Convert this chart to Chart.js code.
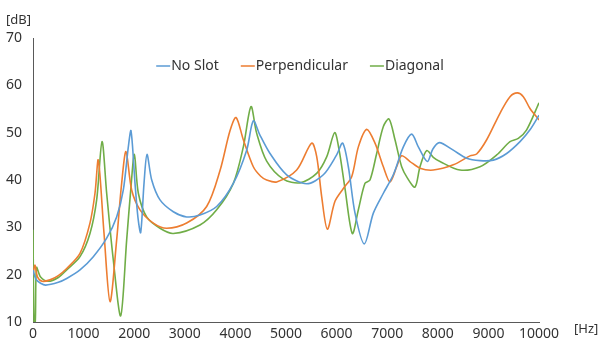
<!DOCTYPE html>
<html lang="en">
<head>
  <meta charset="UTF-8">
  <title>Frequency response</title>
  <script src="https://cdn.jsdelivr.net/npm/chart.js"></script>
  <style>
    html, body {
      margin: 0;
      padding: 0;
      background: #fff;
    }
    #chart {
      display: block;
    }
  </style>
</head>
<body>
  <canvas id="chart" width="599" height="345"></canvas>
  <script>
    // values
    const seriesLabels = ['No Slot', 'Perpendicular', 'Diagonal'];
    const xTicks = [0, 1000, 2000, 3000, 4000, 5000, 6000, 7000, 8000, 9000, 10000];
    const yTicks = [10, 20, 30, 40, 50, 60, 70];

    const noSlotHz = [0, 60, 150, 250, 500, 666, 929, 1192, 1456, 1653, 1785, 1884, 1937, 2016, 2075, 2128, 2194, 2253, 2346, 2510, 2773, 3037, 3300, 3630, 3959, 4223, 4354, 4480, 4684, 5013, 5409, 5738, 6001, 6120, 6232, 6364, 6548, 6726, 6924, 7121, 7319, 7484, 7615, 7793, 7900, 8030, 8306, 8570, 8834, 9097, 9361, 9625, 9822, 10000];
    const noSlotDb = [21, 19, 18.2, 17.8, 18.4, 19.2, 21.0, 23.8, 27.7, 32.2, 37.9, 47.0, 50.4, 39.3, 32, 28.9, 39.3, 45.4, 40.0, 35.8, 33.3, 32.2, 32.6, 34.4, 39.3, 46.3, 52.5, 49.6, 45.6, 41.1, 39.2, 41.1, 45.3, 47.8, 42.8, 33.0, 26.5, 33.0, 37.2, 41.1, 47.0, 49.7, 47.0, 43.9, 46.5, 47.9, 46.3, 44.6, 44.1, 44.2, 45.6, 48.1, 50.6, 53.7];

    const perpHz = [0, 40, 90, 180, 336, 500, 666, 929, 1126, 1225, 1291, 1403, 1522, 1653, 1752, 1838, 1950, 2115, 2378, 2642, 3037, 3432, 3696, 3893, 4012, 4157, 4354, 4500, 4618, 4816, 5211, 5507, 5606, 5705, 5817, 5968, 6133, 6298, 6430, 6594, 6759, 6924, 7055, 7187, 7286, 7451, 7648, 7911, 8306, 8636, 8768, 8966, 9229, 9427, 9572, 9690, 9822, 10000];
    const perpDb = [20, 22, 19.5, 18.6, 18.9, 19.8, 21.3, 24.5, 30.9, 37.2, 44.2, 28.8, 14.3, 27.3, 39.3, 46.0, 37.9, 33.7, 30.9, 29.8, 30.9, 34.4, 42, 50.4, 53.2, 48.5, 42.8, 40.8, 40.0, 39.6, 42.1, 47.8, 45.0, 36.5, 29.6, 35.5, 38.2, 40.7, 47.0, 50.7, 47.8, 42.8, 39.6, 42.8, 45.1, 43.9, 42.5, 42.1, 43.2, 45.1, 45.5, 48.5, 54.1, 57.6, 58.4, 57.6, 55.1, 52.7];

    const diagHz = [0, 20, 45, 70, 150, 300, 500, 666, 929, 1126, 1258, 1364, 1456, 1587, 1733, 1851, 1937, 2003, 2082, 2246, 2510, 2773, 3300, 3630, 3959, 4157, 4308, 4420, 4618, 4947, 5277, 5606, 5804, 5962, 6050, 6166, 6311, 6430, 6561, 6660, 6792, 6924, 7036, 7154, 7286, 7400, 7549, 7648, 7780, 7911, 8043, 8439, 8834, 9164, 9427, 9591, 9756, 10000];
    const diagDb = [29.5, 10, 10, 21.5, 19.5, 18.6, 19.4, 21.0, 23.8, 28.7, 35.8, 48.1, 37.2, 23.1, 11.3, 27.3, 38.6, 45.4, 37.2, 32.2, 29.8, 28.7, 30.5, 33.7, 39.3, 47.0, 55.5, 49.9, 44, 40.2, 39.4, 41.4, 44.9, 50.0, 46.3, 38.2, 28.7, 33.7, 39.3, 40.0, 45.6, 51.3, 52.9, 48.5, 42.8, 40.4, 38.5, 42.8, 46.2, 44.8, 43.9, 42.1, 42.8, 45.3, 48.1, 48.8, 50.6, 56.3];

    const colors = ['#5B9BD5', '#ED7D31', '#70AD47'];
    const font = "'Noto Sans', sans-serif";
    const textColor = '#333';

    function points(hz, db) {
      return hz.map((f, i) => ({ x: f, y: db[i] }));
    }

    // legend inside the plot and the two unit labels
    const overlay = {
      id: 'overlay',
      afterDraw(chart) {
        const ctx = chart.ctx;
        ctx.save();
        ctx.font = '14px ' + font;
        ctx.textBaseline = 'middle';
        ctx.fillStyle = textColor;
        const lineW = 14, gap = 1, spacing = 22;
        const sets = chart.data.datasets;
        let total = 0;
        sets.forEach((d, i) => {
          total += lineW + gap + ctx.measureText(d.label).width;
          if (i < sets.length - 1) total += spacing;
        });
        let x = (chart.chartArea.left + chart.chartArea.right) / 2 + 14 - total / 2;
        const y = 66;
        sets.forEach(d => {
          ctx.strokeStyle = d.borderColor;
          ctx.lineWidth = 1.5;
          ctx.beginPath();
          ctx.moveTo(x, y);
          ctx.lineTo(x + lineW, y);
          ctx.stroke();
          x += lineW + gap;
          ctx.fillText(d.label, x, y);
          x += ctx.measureText(d.label).width + spacing;
        });
        ctx.font = '13px ' + font;
        ctx.textAlign = 'left';
        ctx.fillText('[dB]', 6, 20);
        ctx.fillText('[Hz]', 574, 329);
        ctx.restore();
      }
    };

    new Chart(document.getElementById('chart').getContext('2d'), {
      type: 'line',
      data: {
        datasets: [
          { label: seriesLabels[0], data: points(noSlotHz, noSlotDb), borderColor: colors[0] },
          { label: seriesLabels[1], data: points(perpHz, perpDb), borderColor: colors[1] },
          { label: seriesLabels[2], data: points(diagHz, diagDb), borderColor: colors[2] }
        ]
      },
      options: {
        responsive: false,
        animation: false,
        layout: { padding: { top: 38, right: 60, bottom: 0, left: 0 } },
        elements: {
          point: { radius: 0 },
          line: { borderWidth: 1.6, tension: 0.3, fill: false }
        },
        plugins: {
          legend: { display: false },
          tooltip: { enabled: false }
        },
        scales: {
          x: {
            type: 'linear',
            min: 0,
            max: 10000,
            afterBuildTicks: s => { s.ticks = xTicks.map(v => ({ value: v })); },
            afterFit: s => { s.height = 23; },
            grid: { display: false, drawTicks: false },
            border: { display: true, color: '#595959', width: 1 },
            ticks: {
              color: textColor,
              font: { family: font, size: 14 },
              padding: 4,
              maxRotation: 0,
              autoSkip: false,
              callback: v => String(v)
            }
          },
          y: {
            min: 10,
            max: 70,
            afterBuildTicks: s => { s.ticks = yTicks.map(v => ({ value: v })); },
            afterFit: s => { s.width = 33; },
            grid: { display: false, drawTicks: false },
            border: { display: true, color: '#595959', width: 1 },
            ticks: {
              color: textColor,
              font: { family: font, size: 14 },
              padding: 11,
              callback: v => String(v)
            }
          }
        }
      },
      plugins: [overlay]
    });
  </script>
</body>
</html>
